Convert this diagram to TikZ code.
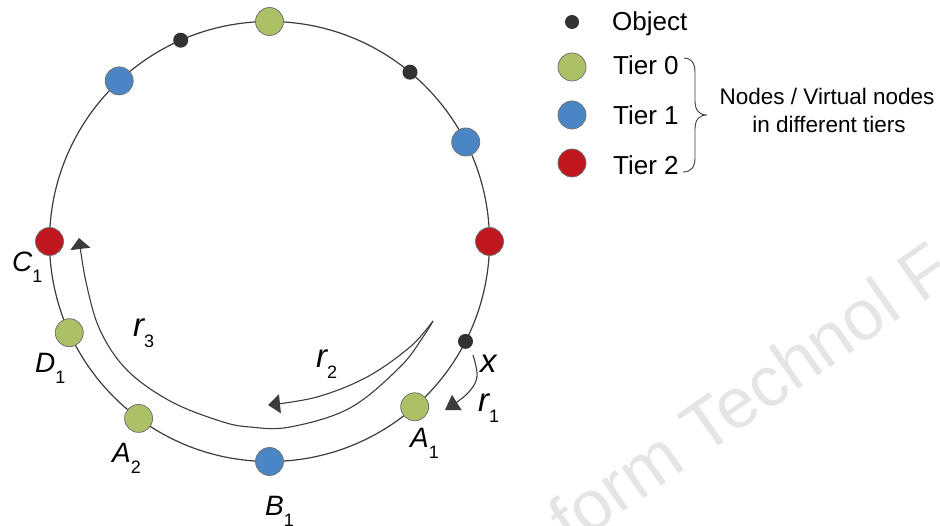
\documentclass[tikz,border=0pt]{standalone}
\usepackage{fontspec}
\setmainfont{Liberation Sans}
\usetikzlibrary{arrows.meta}

\definecolor{tiergreen}{RGB}{172,193,102}
\definecolor{tierblue}{RGB}{74,134,198}
\definecolor{tierred}{RGB}{192,22,30}
\definecolor{objgray}{RGB}{50,50,50}
\definecolor{ringgray}{RGB}{60,60,60}

\newcommand\fsz[1]{\fontsize{#1}{#1}\selectfont}
% italic ring label with an upright, lowered index
\newcommand\ringlabel[2]{{\fsz{28}\itshape #1}\raisebox{-11pt}{\fsz{18}#2}}
\newcommand\arclabel[2]{{\fsz{33}\itshape #1}\raisebox{-11pt}{\fsz{18}#2}}

\begin{document}
\begin{tikzpicture}[x=1pt,y=-1pt,
  ring/.style={line width=1.2pt, draw=ringgray},
  tiernode/.style={circle, minimum size=28pt, inner sep=0pt, draw=black!55, line width=0.8pt},
  t0/.style={tiernode, fill=tiergreen},
  t1/.style={tiernode, fill=tierblue},
  t2/.style={tiernode, fill=tierred},
  objdot/.style={circle, minimum size=15pt, inner sep=0pt, fill=objgray},
  hop/.style={line width=1.1pt, draw=ringgray},
  lbl/.style={inner sep=0pt, anchor=base west},
  legend/.style={inner sep=0pt, anchor=base west, font=\fsz{26}}
]
\useasboundingbox (0,0) rectangle (940,526);

% watermark
\node[rotate=35, anchor=base west, inner sep=0pt, text=black!10, font=\fsz{71}] (wm) at (571,549) {form Technol F};

% the hash ring
\coordinate (O) at (269.5,241.5);
\draw[ring] (O) circle[radius=220pt];

% nodes and objects on the ring
\node[t0] (top) at (269.5,21.5) {};
\node[objdot] (objA) at (180.7,40.2) {};
\node[t1] (blueUL) at (119.2,80.9) {};
\node[objdot] (objB) at (410.0,72.2) {};
\node[t1] (blueR) at (465.7,142.0) {};
\node[t2] (redR) at (489.5,241.5) {};
\node[objdot] (objX) at (465.5,341.4) {};
\node[t0] (A1) at (414.7,406.8) {};
\node[t1] (B1) at (269.5,461.5) {};
\node[t0] (A2) at (138.6,418.4) {};
\node[t0] (D1) at (69.3,332.7) {};
\node[t2] (C1) at (49.5,241.5) {};

% ring labels
\node[lbl] (labC1) at (12,272) {\ringlabel{C}{1}};
\node[lbl] (labD1) at (35,373) {\ringlabel{D}{1}};
\node[lbl] (labA2) at (112,462) {\ringlabel{A}{2}};
\node[lbl] (labB1) at (265,515) {\ringlabel{B}{1}};
\node[lbl] (labA1) at (410,447) {\ringlabel{A}{1}};

% lookup hops
\coordinate (cusp) at (433,321);
\coordinate (r3tip) at (79,238);
\coordinate (r2tip) at (268,405);
\coordinate (r1start) at (473,355);
\coordinate (r1tip) at (445,410);

\draw[hop, -{Triangle[length=11pt,width=20pt]}] plot[smooth, tension=0.6] coordinates
  {(cusp) (423,337) (400,367) (350,408) (290,427) (250,427) (220,421) (170,401) (127,370) (100,330) (86,282) (r3tip)};
\draw[hop, -{Triangle[length=12pt,width=19pt]}] plot[smooth, tension=0.6] coordinates
  {(cusp) (410,347) (367,377) (317,397) (r2tip)};
\draw[hop, -{Triangle[length=14pt,width=18pt]}] plot[smooth, tension=0.6] coordinates
  {(r1start) (477,377) (467,394) (r1tip)};

\node[lbl] (labr3) at (133,337) {\arclabel{r}{3}};
\node[lbl] (labr2) at (316,368) {\arclabel{r}{2}};
\node[lbl] (labr1) at (478,412) {\arclabel{r}{1}};
\node[lbl] (labx) at (480,373) {{\fsz{33}\itshape x}};

% legend
\node[objdot, minimum size=14pt] (legObj) at (572,22) {};
\node[t0] (legT0) at (572,67) {};
\node[t1] (legT1) at (572,115) {};
\node[t2] (legT2) at (572,163) {};
\node[legend] (txtObj) at (612,31) {Object};
\node[legend] (txtT0) at (613,74.5) {Tier 0};
\node[legend] (txtT1) at (613,124.5) {Tier 1};
\node[legend] (txtT2) at (613,174.5) {Tier 2};

% brace grouping the tiers
\draw[line width=0.9pt, draw=ringgray]
  (684,58) .. controls (691,58) and (695,63) .. (695,72) -- (695,101)
  .. controls (695,110) and (699,115) .. (707,115)
  .. controls (699,115) and (695,120) .. (695,129) -- (695,158)
  .. controls (695,167) and (691,172) .. (683,172);
\node[inner sep=0pt, anchor=base, font=\fsz{22.5}] (brace1) at (827,105) {Nodes / Virtual nodes};
\node[inner sep=0pt, anchor=base, font=\fsz{22.5}] (brace2) at (829,133) {in different tiers};
\end{tikzpicture}
\end{document}
